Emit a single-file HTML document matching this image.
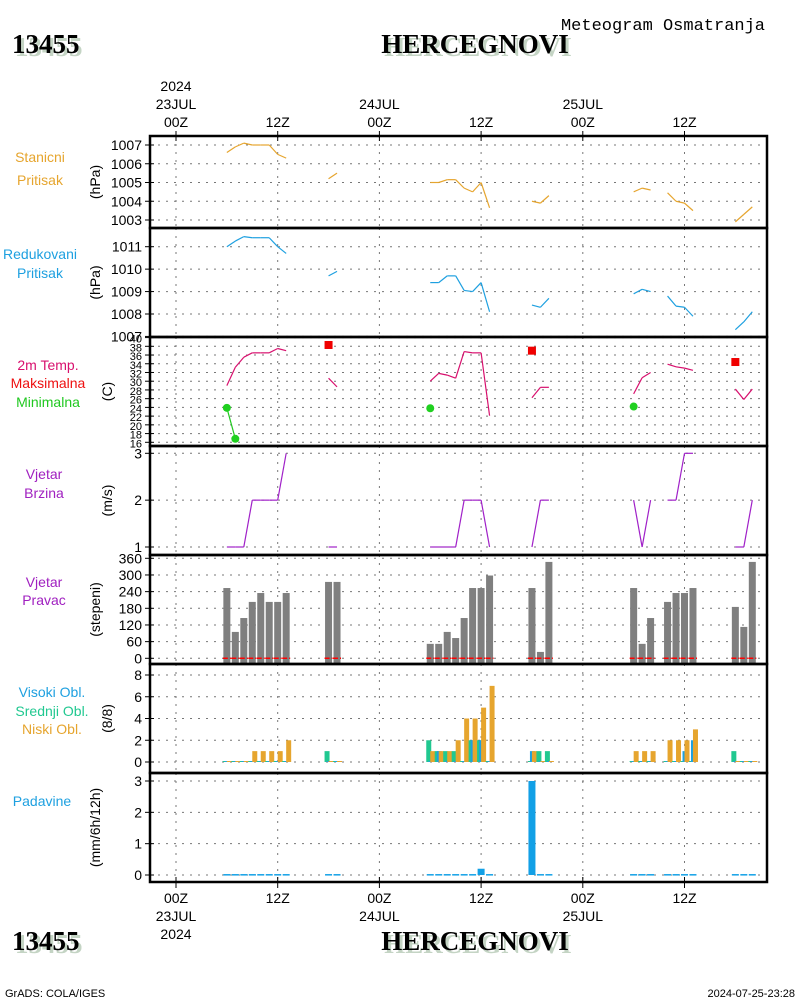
<!DOCTYPE html>
<html><head><meta charset="utf-8"><style>
body{margin:0;background:#fff;}
svg{display:block;font-family:"Liberation Sans",sans-serif;}
.t{font-size:14px;fill:#000;}
.tt{font-family:"Liberation Serif",serif;font-weight:bold;font-size:27px;}
</style></head><body>
<svg id="c" width="800" height="1000">
<g>
<text x="15" y="56" class="tt" fill="#c4d4c4">13455</text>
<text x="12" y="53" class="tt" fill="#000">13455</text>
<text x="478" y="56" class="tt" fill="#c4d4c4" text-anchor="middle">HERCEGNOVI</text>
<text x="475" y="53" class="tt" fill="#000" text-anchor="middle">HERCEGNOVI</text>
<text x="663" y="30" font-size="17" font-family="Liberation Mono, monospace" text-anchor="middle">Meteogram Osmatranja</text>
<text x="15" y="953" class="tt" fill="#c4d4c4">13455</text>
<text x="12" y="950" class="tt" fill="#000">13455</text>
<text x="478" y="953" class="tt" fill="#c4d4c4" text-anchor="middle">HERCEGNOVI</text>
<text x="475" y="950" class="tt" fill="#000" text-anchor="middle">HERCEGNOVI</text>
<text x="5" y="997" font-size="11">GrADS: COLA/IGES</text>
<text x="795" y="997" font-size="11" text-anchor="end">2024-07-25-23:28</text>
</g>
</svg>
<script>
// ---- data ----
const hours = [6,7,8,9,10,11,12,13,18,19,30,31,32,33,34,35,36,37,42,43,44,54,55,56,58,59,60,61,66,67,68];
const stationP = [1006.6,1006.9,1007.1,1007.0,1007.0,1007.0,1006.5,1006.3,1005.2,1005.5,1005.0,1005.0,1005.15,1005.15,1004.7,1004.5,1005.0,1003.65,1004.0,1003.9,1004.3,1004.5,1004.7,1004.6,1004.45,1004.0,1003.9,1003.5,1002.9,1003.3,1003.7];
const seaP = [1011.0,1011.25,1011.45,1011.4,1011.4,1011.4,1011.0,1010.7,1009.7,1009.9,1009.4,1009.4,1009.7,1009.7,1009.05,1009.0,1009.4,1008.1,1008.4,1008.3,1008.7,1008.9,1009.1,1009.0,1008.8,1008.35,1008.3,1007.9,1007.3,1007.65,1008.1];
const temp = [29,33.2,35.5,36.5,36.5,36.5,37.5,37,30.7,28.7,30,31.8,31.4,30.7,36.8,36.5,36.5,22.1,26.2,28.6,28.6,27.1,30.8,32,33.9,33.3,33,32.5,28.2,25.8,28.2];
const tmaxHours = [18,42,66];
const tmaxVals = [38.3,37,34.4];
const tminHours = [6,7,30,54];
const tminVals = [23.9,16.8,23.8,24.2];
const windSpd = [1,1,1,2,2,2,2,3,1,1,1,1,1,1,2,2,2,1,1,2,2,2,1,2,2,2,3,3,1,1,2];
const windDir = [253,95,145,203,235,203,203,235,275,275,52,52,95,73,145,253,253,298,253,23,347,253,52,145,203,235,235,253,185,113,347];
const cloudHigh = [0,0,0,0,0,0,0,0,0,0,0,1,0,0,0,2,2,0,1,0,0,0,0,0,0,0,1,2,0,0,0];
const cloudMid  = [0,0,0,0,0,0,0,0,1,0,2,1,1,1,0,2,2,0,0,1,1,0,0,0,0,0,0,0,1,0,0];
const cloudLow  = [0,0,0,1,1,1,1,2,0,0,1,1,1,2,4,4,5,7,1,0,0,1,1,1,2,2,2,3,0,0,0];
const precip = [0.03,0.03,0.03,0.03,0.03,0.03,0.03,0.03,0.03,0.03,0.03,0.03,0.03,0.03,0.03,0.03,0.2,0.03,3.0,0.03,0.03,0.03,0.03,0.03,0.03,0.03,0.03,0.03,0.03,0.03,0.03];
const pTicks1=[1003,1004,1005,1006,1007];
const pTicks2=[1007,1008,1009,1010,1011];
const tTicks=[16,18,20,22,24,26,28,30,32,34,36,38,40];
const sTicks=[1,2,3];
const dTicks=[0,60,120,180,240,300,360];
const cTicks=[0,2,4,6,8];
const rTicks=[0,1,2,3];
const timeTicks=[0,12,24,36,48,60];
const timeLabels=["00Z","12Z","00Z","12Z","00Z","12Z"];
const dateLabels=["23JUL","","24JUL","","25JUL",""];

const NS="http://www.w3.org/2000/svg";
const svg=document.getElementById('c');
const X0=150,X1=767;
const xh=h=>176+h*8.475;
function lin(v0,y0,v1,y1){return v=>y0+(v-v0)*(y1-y0)/(v1-v0);}
function el(tag,attrs,parent){const e=document.createElementNS(NS,tag);for(const k in attrs)e.setAttribute(k,attrs[k]);(parent||svg).appendChild(e);return e;}

const panels=[
 {top:136,bot:228,y:lin(1007,145,1003,220),ticks:pTicks1,unit:"(hPa)",name:"station-pressure"},
 {top:228,bot:337,y:lin(1011,246.7,1008,314),ticks:pTicks2,unit:"(hPa)",name:"sea-level-pressure"},
 {top:337,bot:446,y:lin(38,346.3,16,442.3),ticks:tTicks,unit:"(C)",name:"temperature",fs:11},
 {top:446,bot:555,y:lin(3,453.3,1,547),ticks:sTicks,unit:"(m/s)",name:"wind-speed"},
 {top:555,bot:664,y:lin(360,558.3,0,658.3),ticks:dTicks,unit:"(stepeni)",name:"wind-direction"},
 {top:664,bot:773,y:lin(8,675,0,762),ticks:cTicks,unit:"(8/8)",name:"cloud-cover"},
 {top:773,bot:882,y:lin(3,781,0,875),ticks:rTicks,unit:"(mm/6h/12h)",name:"precipitation"}
];
const unitX=[100,100,112,112,100,112,100];
panels.forEach((p,i)=>{
 const g=el('g',{});
 
 
 p.g=g;
 p.ticks.forEach(v=>{
  const yy=p.y(v);
  if(yy<p.top-1||yy>p.bot+1)return;
  const gl=el('line',{x1:X0,x2:X1,y1:yy,y2:yy,stroke:'#777','stroke-dasharray':'2,6'},g);
  
  
  el('line',{x1:X0-5,x2:X0+4,y1:yy,y2:yy,stroke:'#000'},g);
  const t=el('text',{x:X0-8,y:yy+5,'text-anchor':'end','font-size':p.fs||14},g);
  
  
  t.textContent=v;
 });
 timeTicks.forEach(h=>{
  el('line',{x1:xh(h),x2:xh(h),y1:p.top,y2:p.bot,stroke:'#777','stroke-dasharray':'2,6'},g);
 });
 const u=el('text',{transform:`translate(${unitX[i]},${(p.top+p.bot)/2}) rotate(-90)`,'text-anchor':'middle','font-size':14},g);
 
 
 u.textContent=p.unit;
});
const leftLabels=[
 [40,162,"Stanicni","#e6a52e"],[40,185,"Pritisak","#e6a52e"],
 [40,259,"Redukovani","#1ea0e0"],[40,278,"Pritisak","#1ea0e0"],
 [48,370,"2m Temp.","#d8106e"],[48,388,"Maksimalna","#ee1010"],[48,407,"Minimalna","#20c820"],
 [44,479,"Vjetar","#a020c0"],[44,498,"Brzina","#a020c0"],
 [44,587,"Vjetar","#a020c0"],[44,605,"Pravac","#a020c0"],
 [52,697,"Visoki Obl.","#1ea0e0"],[52,716,"Srednji Obl.","#20c890"],[52,734,"Niski Obl.","#e6a52e"],
 [42,806,"Padavine","#1ea0e0"]];
leftLabels.forEach(l=>{const t=el('text',{x:l[0],y:l[1],'text-anchor':'middle','font-size':14,fill:l[3]});
 
 
 t.textContent=l[2];});

function series(p,vals,color,name){
 for(let i=1;i<hours.length;i++){
  if(hours[i]-hours[i-1]!==1)continue;
  const s=el('line',{x1:xh(hours[i-1]),y1:p.y(vals[i-1]),x2:xh(hours[i]),y2:p.y(vals[i]),stroke:color,'stroke-width':1.2},p.g);
  
  
 }
}
series(panels[0],stationP,'#e6a52e','station-pressure');
series(panels[1],seaP,'#1ea0e0','sea-pressure');
series(panels[2],temp,'#d8106e','temperature');
series(panels[3],windSpd,'#a020c8','wind-speed');
for(let i=1;i<tminHours.length;i++){ if(tminHours[i]-tminHours[i-1]===1)
 el('line',{x1:xh(tminHours[i-1]),y1:panels[2].y(tminVals[i-1]),x2:xh(tminHours[i]),y2:panels[2].y(tminVals[i]),stroke:'#20c820','stroke-width':1.2},panels[2].g);}
tminHours.forEach((h,i)=>{const c=el('circle',{cx:xh(h),cy:panels[2].y(tminVals[i]),r:4,fill:'#20d020'},panels[2].g);
 
 });
tmaxHours.forEach((h,i)=>{const r=el('rect',{x:xh(h)-4,y:panels[2].y(tmaxVals[i])-4,width:8,height:8,fill:'#f00000'},panels[2].g);
 
 });
const pd=panels[4];
hours.forEach((h,i)=>{
 const b=el('rect',{x:xh(h)-3.5,y:pd.y(windDir[i]),width:7,height:pd.y(0)-pd.y(windDir[i])+6,fill:'#7f7f7f'},pd.g);
 
 
 el('line',{x1:xh(h)-4,x2:xh(h)+4,y1:pd.y(0),y2:pd.y(0),stroke:'#f00','stroke-width':1.5,'stroke-dasharray':'5,2'},pd.g);
});
const pc=panels[5];
function cbar(h,v,off,color,name){
 const y0=pc.y(0),y=pc.y(v);
 const b=el('rect',{x:xh(h)+off,y:Math.min(y,y0-1),width:5,height:Math.max(y0-y,1),fill:color},pc.g);
 
 
}
hours.forEach((h,i)=>{
 cbar(h,cloudMid[i],-4,'#20c890','cloud-mid-bar');
 cbar(h,cloudHigh[i],-2,'#1ea0e0','cloud-high-bar');
 cbar(h,cloudLow[i],0,'#e6a52e','cloud-low-bar');
});
const pr=panels[6];
hours.forEach((h,i)=>{
 const y0=pr.y(0),y=pr.y(precip[i]);
 const b=el('rect',{x:xh(h)-3.5,y:y,width:7,height:Math.max(y0-y,1.5),fill:'#12a0e6'},pr.g);
 
 
});
panels.forEach(p=>{const r=el('rect',{x:X0,y:p.top,width:X1-X0,height:p.bot-p.top,fill:'none',stroke:'#000','stroke-width':2.5});
 
 });
timeTicks.forEach((h,i)=>{
 const x=xh(h);
 el('line',{x1:x,x2:x,y1:131,y2:141,stroke:'#000'});
 el('line',{x1:x,x2:x,y1:877,y2:888,stroke:'#000'});
 const t1=el('text',{x:x,y:127,'text-anchor':'middle',class:'t'});
 
 
 t1.textContent=timeLabels[i];
 const t2=el('text',{x:x,y:903,'text-anchor':'middle',class:'t'});
 
 
 t2.textContent=timeLabels[i];
 if(dateLabels[i]){
  const d1=el('text',{x:x,y:109,'text-anchor':'middle',class:'t'});d1.textContent=dateLabels[i];
  
  
  const d2=el('text',{x:x,y:921,'text-anchor':'middle',class:'t'});d2.textContent=dateLabels[i];
  
  
 }
});
const y1=el('text',{x:xh(0),y:91,'text-anchor':'middle',class:'t'});y1.textContent="2024";


const y2=el('text',{x:xh(0),y:939,'text-anchor':'middle',class:'t'});y2.textContent="2024";


</script>
</body></html>
